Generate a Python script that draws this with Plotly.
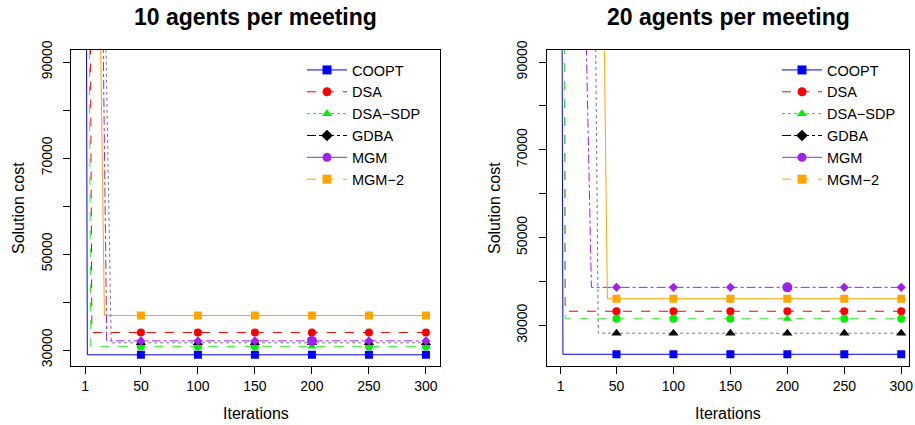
import plotly.graph_objects as go

# ---------------- data ----------------
series_names = ["COOPT", "DSA", "DSA\u2212SDP", "GDBA", "MGM", "MGM\u22122"]
marker_iters = [50, 100, 150, 200, 250, 300]
x_tick_vals = [1, 50, 100, 150, 200, 250, 300]
y_tick_vals = [30000, 40000, 50000, 60000, 70000, 80000, 90000]
y_tick_text = ["30000", "", "50000", "", "70000", "", "90000"]

# 10 agents per meeting: iterations where the curve changes, and the cost there
iters_10 = [[1, 2, 3, 300], [1, 5, 7, 300], [1, 4, 6, 300],
            [1, 18, 24, 300], [1, 16, 20, 300], [1, 14, 18, 300]]
costs_10 = [[120000, 120000, 29000, 29000],
            [130000, 130000, 33650, 33650],
            [133000, 133000, 30750, 30750],
            [111000, 111000, 31500, 31500],
            [112700, 112700, 31900, 31900],
            [105500, 105500, 37200, 37200]]
final_10 = [29000, 33650, 30750, 31500, 31900, 37200]

# 20 agents per meeting
iters_20 = [[1, 2, 3, 300], [1, 4, 5, 300], [1, 4, 5, 300],
            [1, 31, 34, 300], [1, 23, 28, 300], [1, 39, 42, 300]]
costs_20 = [[120000, 120000, 23400, 23400],
            [130000, 130000, 33200, 33200],
            [130000, 130000, 31500, 31500],
            [116600, 116600, 28200, 28200],
            [100100, 100100, 38650, 38650],
            [101400, 101400, 36050, 36050]]
final_20 = [23400, 33200, 31500, 28200, 38650, 36050]

# ---------------- styles ----------------
colors = ["#0000FF", "#FF0000", "#00EE00", "#000000", "#A020F0", "#FFA500"]
line_colors = ["#0000FF", "#FF0000", "#33EE33", "#777777", "#A020F0", "#FFA500"]
plot_dash = ["solid", "dash", "dash", "dot", "dashdot", "solid"]
plot_symbols = [
    ["square"] * 6,
    ["circle"] * 6,
    ["circle", "circle", "circle", "triangle-up", "circle", "circle"],
    ["triangle-up"] * 6,
    ["diamond", "diamond", "diamond", "circle", "diamond", "diamond"],
    ["square"] * 6,
]
plot_sizes = [
    [8] * 6, [8] * 6, [8] * 6, [9] * 6,
    [7, 7, 7, 10, 7, 7], [8] * 6,
]
legend_dash = ["solid", "dash", "dot", "dashdot", "solid", "dash"]
legend_symbols = ["square", "circle", "triangle-up", "diamond", "circle", "square"]

W, H = 915, 425
FONT = "Liberation Sans, Arial, sans-serif"

fig = go.Figure()

panels = [
    ("x", "y", iters_10, costs_10, final_10, "legend"),
    ("x2", "y2", iters_20, costs_20, final_20, "legend2"),
]

for xa, ya, iters, costs, finals, leg in panels:
    for i, name in enumerate(series_names):
        fig.add_trace(go.Scatter(
            x=iters[i], y=costs[i], mode="lines", xaxis=xa, yaxis=ya,
            line=dict(color=line_colors[i], width=1, dash=plot_dash[i]),
            showlegend=False, hoverinfo="skip", cliponaxis=True))
    for i, name in enumerate(series_names):
        fig.add_trace(go.Scatter(
            x=marker_iters, y=[finals[i]] * len(marker_iters), mode="markers",
            xaxis=xa, yaxis=ya,
            marker=dict(color=colors[i], symbol=plot_symbols[i], size=plot_sizes[i],
                        opacity=1, line=dict(width=0)),
            showlegend=False))
    # legend entries
    for i, name in enumerate(series_names):
        fig.add_trace(go.Scatter(
            x=[None], y=[None], mode="lines+markers", name=name,
            xaxis=xa, yaxis=ya, legend=leg,
            line=dict(color=colors[i], width=1, dash=legend_dash[i]),
            marker=dict(color=colors[i], symbol=legend_symbols[i], size=9)))

axis_common = dict(showgrid=False, zeroline=False, showline=True, linecolor="black",
                   linewidth=1, mirror=True, ticks="outside", ticklen=7,
                   tickcolor="black", tickfont=dict(family=FONT, size=14, color="black"))

x1_dom = [71.4 / W, 439.6 / W]
x2_dom = [547 / W, 909 / W]
y_dom = [(H - 366) / H, (H - 50) / H]

legend_common = dict(xanchor="left", yanchor="top", bgcolor="rgba(0,0,0,0)",
                     font=dict(family=FONT, size=14.5, color="black"),
                     tracegroupgap=0, itemwidth=40)

fig.update_layout(
    width=W, height=H, margin=dict(l=0, r=0, t=0, b=0, autoexpand=False),
    plot_bgcolor="white", paper_bgcolor="white",
    font=dict(family=FONT, color="black"),
    xaxis=dict(domain=x1_dom, range=[-10.96, 311.96], tickvals=x_tick_vals,
               anchor="y", **axis_common),
    yaxis=dict(domain=y_dom, range=[26667, 92500], tickvals=y_tick_vals,
               ticktext=y_tick_text, tickangle=-90, anchor="x",
               ticklabelstandoff=6, **axis_common),
    xaxis2=dict(domain=x2_dom, range=[-11.0, 306.8], tickvals=x_tick_vals,
                anchor="y2", **axis_common),
    yaxis2=dict(domain=y_dom, range=[20727, 92734], tickvals=y_tick_vals,
                ticktext=y_tick_text, tickangle=-90, anchor="x2",
                ticklabelstandoff=6, **axis_common),
    legend=dict(x=302 / W, y=(H - 54) / H, **legend_common),
    legend2=dict(x=777 / W, y=(H - 54) / H, **legend_common),
    showlegend=True,
)

annots = [
    dict(text="<b>10 agents per meeting</b>", x=(71.4 + 439.6) / 2 / W, y=(H - 17) / H,
         font=dict(size=23)),
    dict(text="<b>20 agents per meeting</b>", x=(547 + 909) / 2 / W, y=(H - 17) / H,
         font=dict(size=23)),
    dict(text="Iterations", x=(71.4 + 439.6) / 2 / W, y=(H - 413) / H, font=dict(size=16)),
    dict(text="Iterations", x=(547 + 909) / 2 / W, y=(H - 413) / H, font=dict(size=16)),
    dict(text="Solution cost", x=18 / W, y=(H - 208) / H, font=dict(size=16), textangle=-90),
    dict(text="Solution cost", x=494 / W, y=(H - 208) / H, font=dict(size=16), textangle=-90),
]
for a in annots:
    fig.add_annotation(xref="paper", yref="paper", showarrow=False,
                       xanchor="center", yanchor="middle", **a)

fig.write_html("out.html", config={"displayModeBar": False},
               post_script="document.body.style.margin='0';document.body.style.overflow='hidden';")
